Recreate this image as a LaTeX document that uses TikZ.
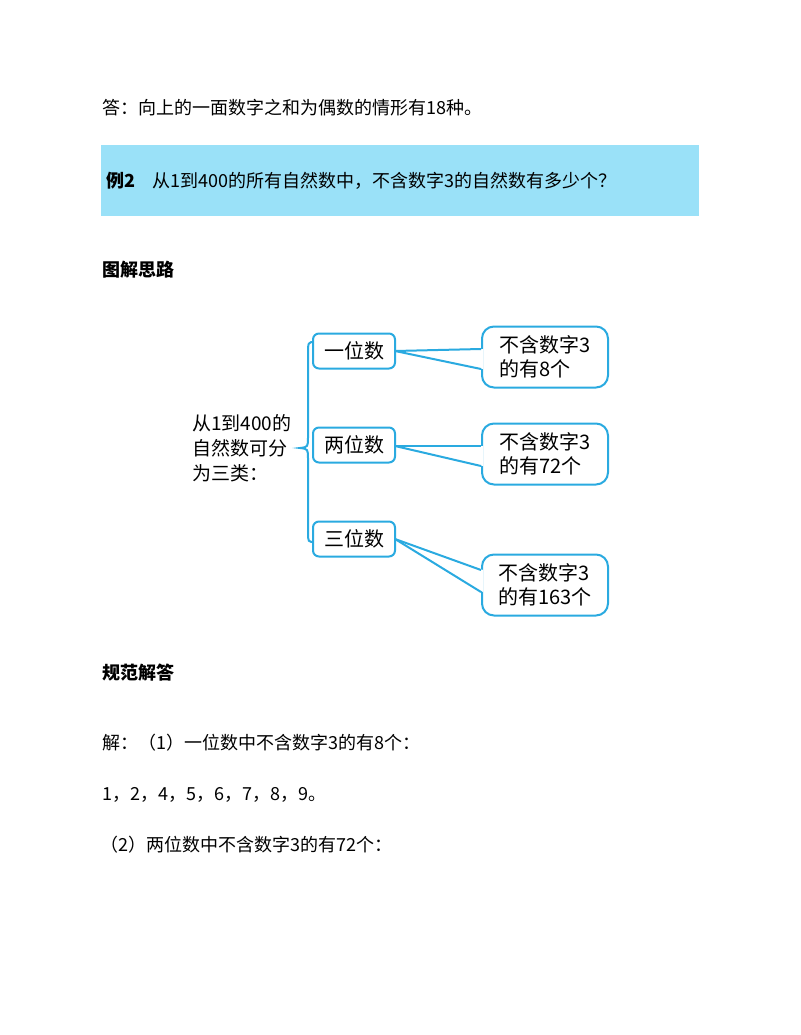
\documentclass[tikz,border=0pt]{standalone}
\usepackage{fontspec}
\setmainfont{Noto Sans CJK SC}
\definecolor{band}{HTML}{9AE1F8}
\definecolor{lb}{HTML}{2AAAE0}
\begin{document}
\begin{tikzpicture}[x=1pt,y=-1pt,
  txt/.style={anchor=west,inner sep=0pt,font=\fontsize{18}{20}\selectfont},
  hd/.style={anchor=west,inner sep=0pt,font=\fontsize{18}{20}\selectfont\bfseries},
  cat/.style={draw=lb,line width=2pt,rounded corners=6pt,minimum width=82pt,minimum height=35pt,inner sep=0pt,font=\fontsize{20}{22}\selectfont},
  call/.style={draw=lb,line width=2pt,rounded corners=12pt,fill=white,minimum width=126pt,minimum height=61pt,inner sep=0pt,align=left,font=\fontsize{20}{24}\selectfont},
  wedge/.style={draw=lb,line width=2pt}]
\useasboundingbox (0,0) rectangle (800,1035);
\node[txt] (ans) at (102,108) {答：向上的一面数字之和为偶数的情形有18种。};
\fill[band] (101,145) rectangle (699,216);
\node[hd] (ex) at (106,181) {例2};
\node[txt] (q) at (152,181) {从1到400的所有自然数中，不含数字3的自然数有多少个？};
\node[hd] (h1) at (102,270) {图解思路};
\node[anchor=west,inner sep=0pt,align=left,font=\fontsize{19}{25}\selectfont] (left) at (192,448) {从1到400的\\自然数可分\\为三类：};
\draw[lb,line width=2pt] (315,342) .. controls (308,342) .. (308,355) -- (308,437) .. controls (308,447) .. (300,448) .. controls (308,449) .. (308,459) -- (308,532) .. controls (308,542) .. (315,542);
\node[call] (c1) at (545,357) {不含数字3\\的有8个};
\node[call] (c2) at (545,454) {不含数字3\\的有72个};
\node[call] (c3) at (545,585) {不含数字3\\的有163个};
\node[cat,fill=white] (b1) at (354,351) {一位数};
\node[cat,fill=white] (b2) at (354,445) {两位数};
\node[cat,fill=white] (b3) at (354,539) {三位数};
\coordinate (p1) at (395,351);
\coordinate (p2) at (395,446);
\coordinate (p3) at (395,539);
\fill[white] (p1) -- ([xshift=2pt]c1.west |- 0,349) -- ([xshift=2pt]c1.west |- 0,369) -- cycle;
\fill[white] (p2) -- ([xshift=2pt]c2.west |- 0,446) -- ([xshift=2pt]c2.west |- 0,466) -- cycle;
\fill[white] (p3) -- ([xshift=2pt]c3.west |- 0,570) -- ([xshift=2pt]c3.west |- 0,592) -- cycle;
\draw[wedge] (p1) -- (c1.west |- 0,349);
\draw[wedge] (p1) -- (c1.west |- 0,369);
\draw[wedge] (p2) -- (c2.west |- 0,446);
\draw[wedge] (p2) -- (c2.west |- 0,466);
\draw[wedge] (p3) -- (c3.west |- 0,570);
\draw[wedge] (p3) -- (c3.west |- 0,592);
\node[hd] (h2) at (102,673) {规范解答};
\node[txt] (s1) at (102,743) {解：（1）一位数中不含数字3的有8个：};
\node[txt] (s2) at (102,795) {1，2，4，5，6，7，8，9。};
\node[txt] (s3) at (100,845) {（2）两位数中不含数字3的有72个：};
\end{tikzpicture}
\end{document}
